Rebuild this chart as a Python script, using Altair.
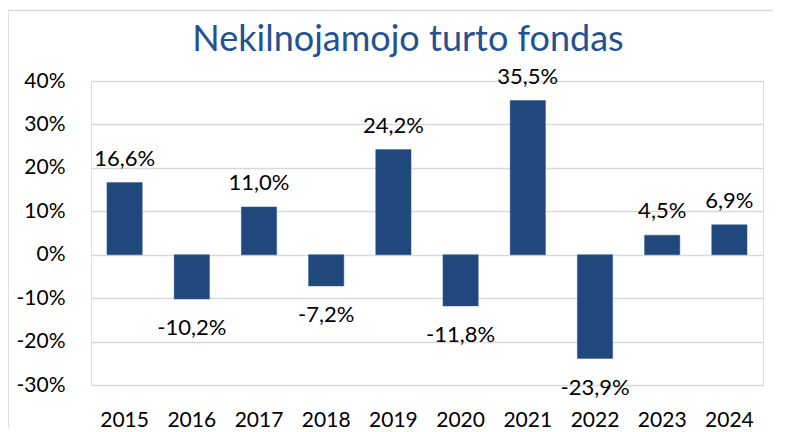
import altair as alt
import pandas as pd

years = ["2015", "2016", "2017", "2018", "2019", "2020", "2021", "2022", "2023", "2024"]
values = [16.6, -10.2, 11.0, -7.2, 24.2, -11.8, 35.5, -23.9, 4.5, 6.9]
y_ticks = [-0.3, -0.2, -0.1, 0.0, 0.1, 0.2, 0.3, 0.4]

df = pd.DataFrame({
    "year": years,
    "value": [v / 100 for v in values],
    "label": [f"{v:.1f}".replace(".", ",") + "%" for v in values],
})

FONT = "Lato"
BAR = "#21487C"
GRID = "#D9D9D9"

x_enc = alt.X("year:N", sort=years, title=None,
              scale=alt.Scale(paddingInner=0.475, paddingOuter=0.2375),
              axis=alt.Axis(labelAngle=0, domain=False, ticks=False, tickSize=0,
                            labelFont=FONT, labelFontSize=21, labelColor="#000000",
                            labelBaseline="alphabetic", labelPadding=41, grid=False))
y_enc = alt.Y("value:Q", title=None,
              scale=alt.Scale(domain=[-0.3, 0.4], nice=False, zero=True),
              axis=alt.Axis(values=y_ticks, labelExpr="round(datum.value*100) + '%'",
                            domain=False, ticks=False, tickSize=0, labelPadding=26,
                            labelFont=FONT, labelFontSize=21, labelColor="#000000",
                            grid=True, gridColor=GRID, gridWidth=1.3))

base = alt.Chart(df)

bars = base.mark_bar(color=BAR, stroke="#2E5A94", strokeWidth=0.5).encode(x=x_enc, y=y_enc)

pos_labels = base.transform_filter("datum.value >= 0").mark_text(
    font=FONT, fontSize=22, color="#000000", baseline="alphabetic", dy=-17
).encode(x=alt.X("year:N", sort=years), y=alt.Y("value:Q"), text="label:N")

neg_labels = base.transform_filter("datum.value < 0").mark_text(
    font=FONT, fontSize=22, color="#000000", baseline="alphabetic", dy=36
).encode(x=alt.X("year:N", sort=years), y=alt.Y("value:Q"), text="label:N")

border_df = pd.DataFrame({"k": [0]})
left_border = alt.Chart(border_df).mark_rule(color=GRID, strokeWidth=1.5).encode(
    x=alt.value(-83), y=alt.value(-70.5), y2=alt.value(360))
top_border = alt.Chart(border_df).mark_rule(color=GRID, strokeWidth=1.5).encode(
    x=alt.value(-83), x2=alt.value(720), y=alt.value(-70.5))

chart = alt.layer(bars, pos_labels, neg_labels, left_border, top_border).properties(
    width=672, height=304,
    title=alt.TitleParams("Nekilnojamojo turto fondas", font=FONT, fontSize=36,
                          fontWeight="normal", color="#245291", anchor="middle",
                          dx=-19, offset=-77, baseline="alphabetic"),
    autosize=alt.AutoSizeParams(type="none"),
    padding={"left": 83, "top": 73, "right": 10, "bottom": 43},
).configure_view(stroke=None).configure(background="#FFFFFF")

chart.save("out.html", embed_options={"renderer": "svg", "actions": False})
